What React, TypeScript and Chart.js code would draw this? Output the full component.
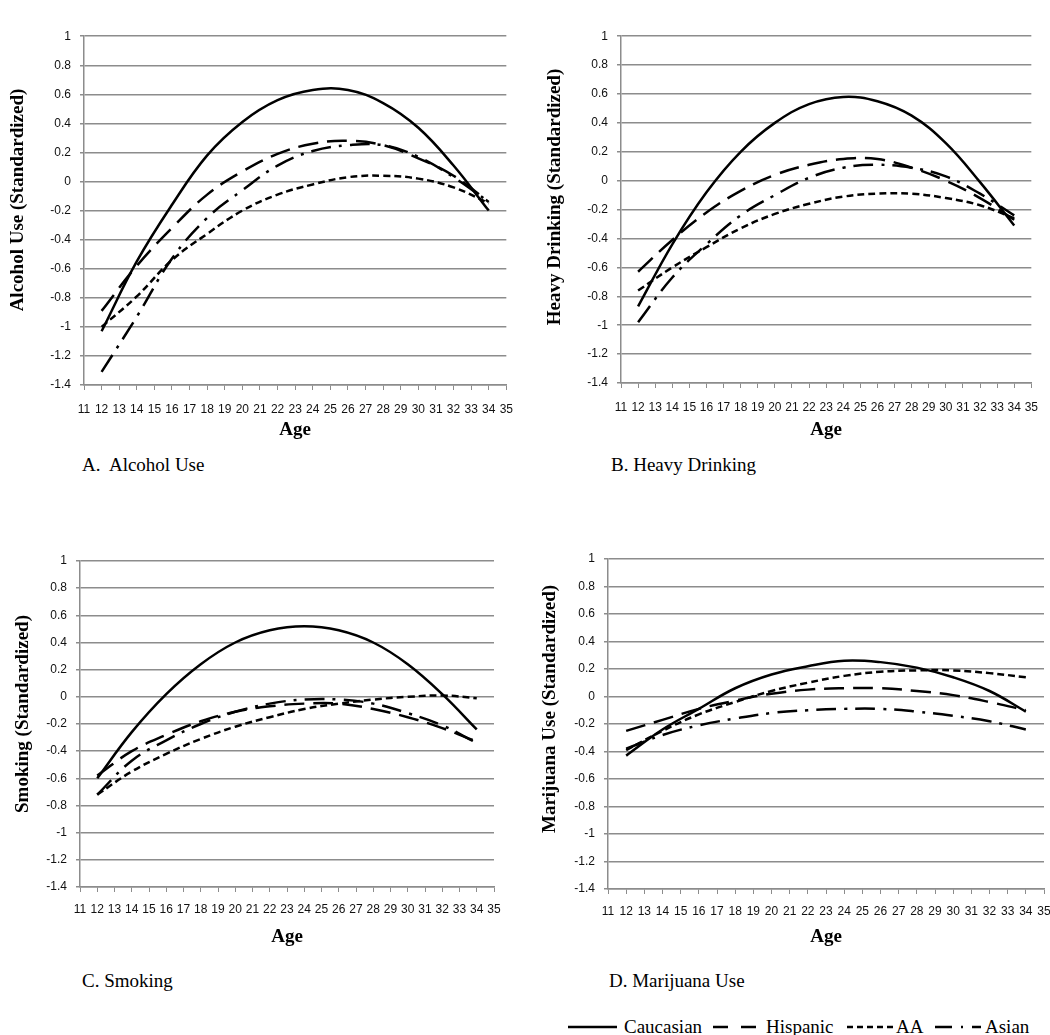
import React, { useEffect, useRef } from "react";
import { Chart, registerables } from "chart.js";

Chart.register(...registerables);

// ---------- data ----------
const ages = [12, 14, 16, 18, 20, 22, 24, 26, 28, 30, 32, 34];
const seriesNames = ["Caucasian", "Hispanic", "AA", "Asian"];

const alcoholCaucasian = [-1.03, -0.55, -0.16, 0.18, 0.41, 0.56, 0.63, 0.63, 0.54, 0.37, 0.11, -0.2];
const alcoholHispanic = [-0.89, -0.58, -0.32, -0.09, 0.07, 0.19, 0.26, 0.28, 0.25, 0.16, 0.04, -0.14];
const alcoholAA = [-1.0, -0.79, -0.54, -0.36, -0.2, -0.09, -0.02, 0.03, 0.04, 0.02, -0.04, -0.15];
const alcoholAsian = [-1.31, -0.93, -0.53, -0.25, -0.06, 0.11, 0.21, 0.25, 0.25, 0.17, 0.03, -0.14];

const heavyCaucasian = [-0.87, -0.44, -0.08, 0.2, 0.4, 0.53, 0.58, 0.55, 0.45, 0.26, -0.01, -0.31];
const heavyHispanic = [-0.63, -0.41, -0.22, -0.07, 0.04, 0.11, 0.15, 0.15, 0.09, 0.0, -0.12, -0.27];
const heavyAA = [-0.76, -0.6, -0.46, -0.33, -0.23, -0.16, -0.11, -0.09, -0.09, -0.12, -0.17, -0.26];
const heavyAsian = [-0.98, -0.67, -0.44, -0.24, -0.1, 0.02, 0.09, 0.11, 0.09, 0.03, -0.09, -0.24];

const smokingCaucasian = [-0.6, -0.26, 0.02, 0.24, 0.4, 0.49, 0.52, 0.49, 0.4, 0.24, 0.02, -0.24];
const smokingHispanic = [-0.58, -0.4, -0.28, -0.18, -0.11, -0.07, -0.05, -0.05, -0.09, -0.15, -0.23, -0.33];
const smokingAA = [-0.72, -0.55, -0.42, -0.31, -0.22, -0.15, -0.09, -0.05, -0.02, 0.0, 0.01, -0.01];
const smokingAsian = [-0.72, -0.47, -0.32, -0.2, -0.11, -0.05, -0.02, -0.02, -0.05, -0.12, -0.21, -0.34];

const marijuanaCaucasian = [-0.43, -0.24, -0.09, 0.06, 0.16, 0.22, 0.26, 0.25, 0.21, 0.14, 0.04, -0.11];
const marijuanaHispanic = [-0.25, -0.17, -0.09, -0.03, 0.02, 0.05, 0.06, 0.06, 0.04, 0.01, -0.04, -0.1];
const marijuanaAA = [-0.39, -0.25, -0.13, -0.04, 0.04, 0.1, 0.15, 0.18, 0.19, 0.19, 0.17, 0.14];
const marijuanaAsian = [-0.38, -0.28, -0.21, -0.16, -0.12, -0.1, -0.09, -0.09, -0.11, -0.14, -0.18, -0.24];

const xMin = 11;
const xMax = 35;
const yMin = -1.4;
const yMax = 1;
const yStep = 0.2;

// ---------- styles ----------
const SERIF = "'Liberation Serif', 'Times New Roman', Times, serif";
const TICK_FONT = "'Liberation Sans', Arial, sans-serif";
const GRID = "#8c8c8c";
const DASHES: number[][] = [[], [20, 9], [7, 4], [20, 8, 3, 8]];

type PanelSpec = {
  ytitle: string;
  series: number[][];
  cx: number; cy: number; cw: number; ch: number;
  left: number; right: number; top: number; bottom: number;
  titleX: number; titleY: number; tickPad: number;
};

const panels: PanelSpec[] = [
  {
    ytitle: "Alcohol Use (Standardized)",
    series: [alcoholCaucasian, alcoholHispanic, alcoholAA, alcoholAsian],
    cx: 0, cy: 20, cw: 525, ch: 421,
    left: 84, right: 507, top: 35, bottom: 385, titleX: 18, titleY: 200, tickPad: 12,
  },
  {
    ytitle: "Heavy Drinking (Standardized)",
    series: [heavyCaucasian, heavyHispanic, heavyAA, heavyAsian],
    cx: 525, cy: 20, cw: 525, ch: 421,
    left: 621, right: 1036, top: 35, bottom: 383, titleX: 555, titleY: 197, tickPad: 12,
  },
  {
    ytitle: "Smoking (Standardized)",
    series: [smokingCaucasian, smokingHispanic, smokingAA, smokingAsian],
    cx: 0, cy: 540, cw: 525, ch: 408,
    left: 80, right: 494, top: 561, bottom: 887, titleX: 23, titleY: 714, tickPad: 10,
  },
  {
    ytitle: "Marijuana Use (Standardized)",
    series: [marijuanaCaucasian, marijuanaHispanic, marijuanaAA, marijuanaAsian],
    cx: 525, cy: 540, cw: 545, ch: 408,
    left: 608, right: 1044, top: 559, bottom: 889, titleX: 550, titleY: 709, tickPad: 10,
  },
];

const captions = [
  { text: "A.  Alcohol Use", x: 82, y: 465 },
  { text: "B. Heavy Drinking", x: 611, y: 465 },
  { text: "C. Smoking", x: 82, y: 981 },
  { text: "D. Marijuana Use", x: 609, y: 981 },
];

function Panel({ p }: { p: PanelSpec }) {
  const ref = useRef<HTMLCanvasElement | null>(null);
  useEffect(() => {
    if (!ref.current) return;
    const yw = p.left - p.cx;
    const xh = p.cy + p.ch - p.bottom;
    const yTitlePlugin = {
      id: "yTitle",
      afterDraw(chart: any) {
        const ctx = chart.ctx;
        ctx.save();
        ctx.translate(p.titleX - p.cx, p.titleY - p.cy);
        ctx.rotate(-Math.PI / 2);
        ctx.font = `bold 19px ${SERIF}`;
        ctx.fillStyle = "#000";
        ctx.textAlign = "center";
        ctx.textBaseline = "middle";
        ctx.fillText(p.ytitle, 0, 0);
        ctx.restore();
      },
    };
    const chart = new Chart(ref.current, {
      type: "line",
      data: {
        datasets: p.series.map((vals, i) => ({
          label: seriesNames[i],
          data: ages.map((a, j) => ({ x: a, y: vals[j] })),
          borderColor: "#000",
          backgroundColor: "#000",
          borderWidth: 2.5,
          borderDash: DASHES[i],
          pointRadius: 0,
          tension: 0.4,
          fill: false,
        })),
      },
      options: {
        animation: false,
        responsive: false,
        devicePixelRatio: 1,
        layout: {
          padding: { top: p.top - p.cy, left: 0, right: p.cx + p.cw - p.right, bottom: 0 },
        },
        plugins: { legend: { display: false }, tooltip: { enabled: false } },
        scales: {
          x: {
            type: "linear",
            min: xMin,
            max: xMax,
            ticks: {
              stepSize: 1,
              autoSkip: false,
              maxRotation: 0,
              padding: p.tickPad,
              color: "#111",
              font: { family: TICK_FONT, size: 12 },
            },
            grid: { drawOnChartArea: false, drawTicks: true, tickLength: 5, color: GRID, lineWidth: 1 },
            border: { display: true, color: GRID, width: 1.5 },
            title: {
              display: true,
              text: "Age",
              color: "#000",
              font: { family: SERIF, size: 19, weight: "bold" },
              padding: { top: 0, bottom: 0 },
            },
            afterFit: (s: any) => { s.height = xh; },
          },
          y: {
            type: "linear",
            min: yMin,
            max: yMax,
            ticks: {
              stepSize: yStep,
              padding: 9,
              color: "#111",
              font: { family: TICK_FONT, size: 12 },
              callback: (v: any) => String(Math.round(Number(v) * 10) / 10),
            },
            grid: { color: GRID, lineWidth: 1.5, tickLength: 4, drawTicks: true },
            border: { display: true, color: GRID, width: 1.5 },
            title: { display: false },
            afterFit: (s: any) => { s.width = yw; },
          },
        },
      } as any,
      plugins: [yTitlePlugin],
    });
    return () => chart.destroy();
  }, [p]);
  return (
    <canvas
      ref={ref}
      width={p.cw}
      height={p.ch}
      style={{ position: "absolute", left: p.cx, top: p.cy, width: p.cw, height: p.ch }}
    />
  );
}

function LegendLine({ x, w, dash }: { x: number; w: number; dash: number[] }) {
  return (
    <svg width={w} height={6} style={{ position: "absolute", left: x, top: 1024 }}>
      <line
        x1={0}
        y1={3}
        x2={w}
        y2={3}
        stroke="#000"
        strokeWidth={2.5}
        strokeDasharray={dash.length ? dash.join(" ") : undefined}
      />
    </svg>
  );
}

const legendItems = [
  { x: 568, w: 49, dash: [] as number[], tx: 624 },
  { x: 713, w: 43, dash: [15, 13], tx: 766 },
  { x: 847, w: 46, dash: [6, 4], tx: 896 },
  { x: 935, w: 46, dash: [17, 9, 2, 9], tx: 985 },
];

export default function App() {
  return (
    <div
      style={{
        position: "absolute",
        left: 0,
        top: 0,
        width: 1050,
        height: 1035,
        overflow: "hidden",
        background: "#fff",
      }}
    >
      {panels.map((p, i) => (
        <Panel key={i} p={p} />
      ))}
      {captions.map((c, i) => (
        <div
          key={i}
          style={{
            position: "absolute",
            left: c.x,
            top: c.y - 11,
            height: 22,
            lineHeight: "22px",
            fontFamily: SERIF,
            fontSize: 19,
            whiteSpace: "pre",
            color: "#000",
          }}
        >
          {c.text}
        </div>
      ))}
      {legendItems.map((l, i) => (
        <React.Fragment key={i}>
          <LegendLine x={l.x} w={l.w} dash={l.dash} />
          <div
            style={{
              position: "absolute",
              left: l.tx,
              top: 1016,
              height: 22,
              lineHeight: "22px",
              fontFamily: SERIF,
              fontSize: 19,
              whiteSpace: "pre",
              color: "#000",
            }}
          >
            {seriesNames[i]}
          </div>
        </React.Fragment>
      ))}
    </div>
  );
}
